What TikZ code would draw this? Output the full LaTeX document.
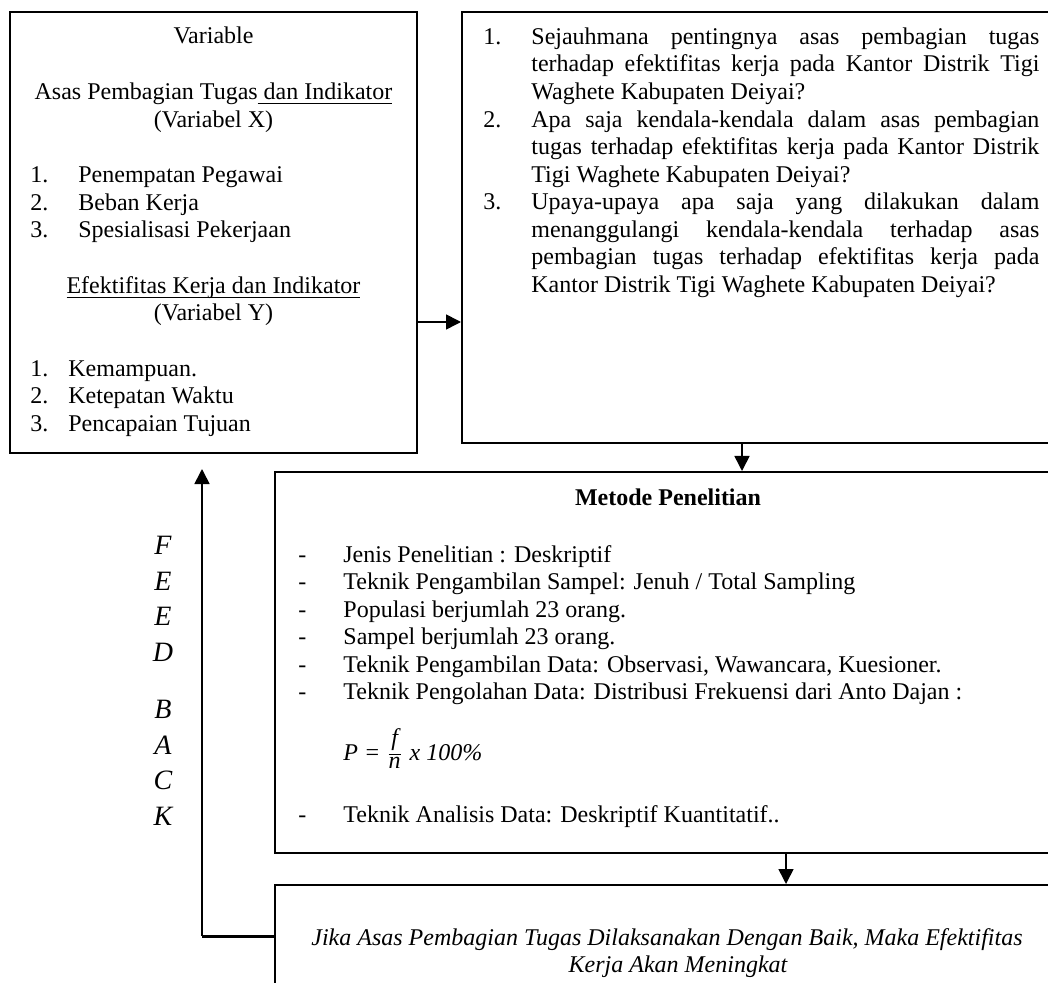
\documentclass[tikz,border=0pt]{standalone}
\usepackage{fontspec}
\setmainfont{Liberation Serif}
\usetikzlibrary{arrows.meta}
\newcommand{\ulfix}[1]{\setbox0\hbox{#1}\rlap{\rule[-2pt]{\wd0}{0.5pt}}\box0}
\newcommand{\jline}[1]{\makebox[254pt][s]{#1}}
\begin{document}
\begin{tikzpicture}[x=0.5pt,y=-0.5pt,
    >={Triangle[length=7.5pt,width=7.5pt]},
    box/.style={draw,line width=1pt,inner sep=0pt},
    txt/.style={inner sep=0pt,font=\fontsize{12}{13.8}\selectfont},
    fbletter/.style={inner sep=0pt,font=\fontsize{14}{16}\selectfont\itshape},
    link/.style={->,line width=0.8pt}]
    \useasboundingbox (0,0) rectangle (1048,983);
    \clip (0,0) rectangle (1048,983);

    % boxes
    \node [box,minimum width=203.5pt,minimum height=220.5pt] (varbox) at (213.5,232.5) {};
    \node [box,minimum width=299.5pt,minimum height=215.5pt] (qbox) at (761.5,227.5) {};
    \node [box,minimum width=393pt,minimum height=190.5pt] (metode) at (668,662.5) {};
    \node [box,minimum width=393pt,minimum height=62.5pt] (hyp) at (668,947.5) {};

    % variables
    \node [txt,anchor=base] (vtitle) at (213.5,44) {Variable};
    \node [txt,anchor=base] (xname) at (213.5,100) {Asas Pembagian Tugas\ulfix{ dan Indikator}};
    \node [txt,anchor=base] (xlabel) at (213.5,128) {(Variabel X)};
    \foreach \num/\item/\yy [count=\i] in {1./Penempatan Pegawai/183, 2./Beban Kerja/211, 3./Spesialisasi Pekerjaan/238} {
        \node [txt,anchor=base west] (xnum\i) at (30,\yy) {\num};
        \node [txt,anchor=base west] (xind\i) at (78,\yy) {\item};
    }
    \node [txt,anchor=base] (yname) at (213.5,294) {\ulfix{Efektifitas Kerja dan Indikator}};
    \node [txt,anchor=base] (ylabel) at (213.5,321) {(Variabel Y)};
    \foreach \num/\item/\yy [count=\i] in {1./Kemampuan./377, 2./Ketepatan Waktu/404, 3./Pencapaian Tujuan/432} {
        \node [txt,anchor=base west] (ynum\i) at (30,\yy) {\num};
        \node [txt,anchor=base west] (yind\i) at (68,\yy) {\item};
    }

    % rumusan masalah
    \node [txt,anchor=base west] (qnum1) at (483,45) {1.};
    \node [txt,anchor=base west] (qnum2) at (483,128) {2.};
    \node [txt,anchor=base west] (qnum3) at (483,210) {3.};
    \foreach \yy/\ln [count=\i] in {
        45/\jline{Sejauhmana pentingnya asas pembagian tugas},
        72/\jline{terhadap efektifitas kerja pada Kantor Distrik Tigi},
        100/Waghete Kabupaten Deiyai?,
        128/\jline{Apa saja kendala-kendala dalam asas pembagian},
        155/\jline{tugas terhadap efektifitas kerja pada Kantor Distrik},
        183/Tigi Waghete Kabupaten Deiyai?,
        210/\jline{Upaya-upaya apa saja yang dilakukan dalam},
        238/\jline{menanggulangi kendala-kendala terhadap asas},
        265/\jline{pembagian tugas terhadap efektifitas kerja pada},
        293/Kantor Distrik Tigi Waghete Kabupaten Deiyai?} {
        \node [txt,anchor=base west] (qline\i) at (531,\yy) {\ln};
    }

    % metode penelitian
    \node [txt,anchor=base,font=\fontsize{12}{13.8}\selectfont\bfseries] (mtitle) at (668,505) {Metode Penelitian};
    \foreach \yy/\ln [count=\i] in {
        562/{Jenis Penelitian : Deskriptif},
        589/{Teknik Pengambilan Sampel: Jenuh / Total Sampling},
        617/{Populasi berjumlah 23 orang.},
        644/{Sampel berjumlah 23 orang.},
        672/{Teknik Pengambilan Data: Observasi, Wawancara, Kuesioner.},
        699/{Teknik Pengolahan Data: Distribusi Frekuensi dari Anto Dajan :},
        822/{Teknik Analisis Data: Deskriptif Kuantitatif..}} {
        \node [txt,anchor=base west] (mdash\i) at (298,\yy) {-};
        \node [txt,anchor=base west] (mline\i) at (343,\yy) {\ln};
    }
    \node [txt,anchor=base west] (formula) at (343,760) {\textit{P =} $\frac{\textit{f}\rule[-3.5pt]{0pt}{0pt}}{\textit{n}}$\;\textit{x 100\%}};

    % hipotesis
    \node [txt,anchor=base,font=\fontsize{12}{13.8}\selectfont\itshape] (hyp1) at (667,945) {Jika Asas Pembagian Tugas Dilaksanakan Dengan Baik, Maka Efektifitas};
    \node [txt,anchor=base,font=\fontsize{12}{13.8}\selectfont\itshape] (hyp2) at (678,972) {Kerja Akan Meningkat};

    % arrows
    \coordinate (a1) at (417,322);
    \draw [link] (a1) -- (a1 -| qbox.west);
    \coordinate (d1) at (742,0);
    \draw [link] (qbox.south -| d1) -- (metode.north -| d1);
    \coordinate (d2) at (786,0);
    \draw [link] (metode.south -| d2) -- (hyp.north -| d2);

    % feed back
    \coordinate (fb) at (202,936);
    \draw [line width=1.5pt] (hyp.west |- fb) -- (fb);
    \draw [link] (fb) -- ([yshift=-7.5pt]varbox.south -| fb);
    \foreach \ch/\yy [count=\i] in {F/554,E/590,E/625,D/661,B/718,A/754,C/789,K/825} {
        \node [fbletter,anchor=base] (fbl\i) at (163,\yy) {\ch};
    }
\end{tikzpicture}
\end{document}
